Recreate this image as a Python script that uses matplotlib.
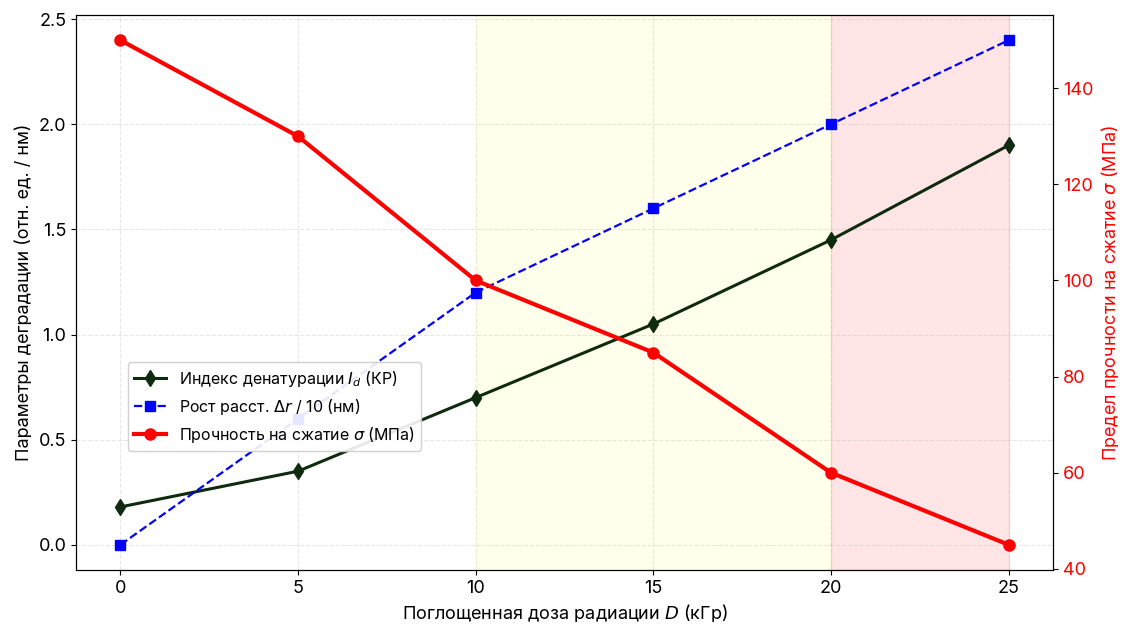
import matplotlib
matplotlib.use("Agg")
import matplotlib.pyplot as plt

plt.rcParams['font.family'] = ['Inter', 'DejaVu Sans']
plt.rcParams['mathtext.fontset'] = 'dejavusans'

dose = [0, 5, 10, 15, 20, 25]
denat_index = [0.18, 0.35, 0.70, 1.05, 1.45, 1.90]
spacing_growth = [0.0, 0.6, 1.2, 1.6, 2.0, 2.4]
strength = [150, 130, 100, 85, 60, 45]
right_ticks = [40, 60, 80, 100, 120, 140]

fig, ax1 = plt.subplots(figsize=(11.25, 6.25), dpi=100)
fig.subplots_adjust(left=0.0676, right=0.936, bottom=0.088, top=0.976)

ax1.axvspan(10, 20, color='yellow', alpha=0.08)
ax1.axvspan(20, 25, color='red', alpha=0.1)

l1, = ax1.plot(dose, denat_index, color='#0f2b0f', marker='d', markersize=8,
               linewidth=2.2, label=r'Индекс денатурации $I_d$ (КР)')
l2, = ax1.plot(dose, spacing_growth, color='blue', marker='s', markersize=7,
               linestyle='--', linewidth=1.6, label=r'Рост расст. $\Delta r$ / 10 (нм)')
ax1.set_xlabel(r'Поглощенная доза радиации $D$ (кГр)', fontsize=13)
ax1.set_ylabel('Параметры деградации (отн. ед. / нм)', fontsize=13)
ax1.set_xticks(dose)
ax1.tick_params(labelsize=13)
ax1.grid(True, linestyle='--', alpha=0.3)

ax2 = ax1.twinx()
l3, = ax2.plot(dose, strength, color='red', marker='o', markersize=8,
               linewidth=3, label=r'Прочность на сжатие $\sigma$ (МПа)')
ax2.set_ylabel(r'Предел прочности на сжатие $\sigma$ (МПа)', color='red', fontsize=13)
ax2.set_yticks(right_ticks)
ax2.tick_params(axis='y', labelcolor='red', labelsize=13)

ax1.legend(handles=[l1, l2, l3], loc='lower left',
           bbox_to_anchor=(0.045, 0.2), fontsize=11.5, framealpha=0.9)

fig.savefig('out.png', dpi=100)
